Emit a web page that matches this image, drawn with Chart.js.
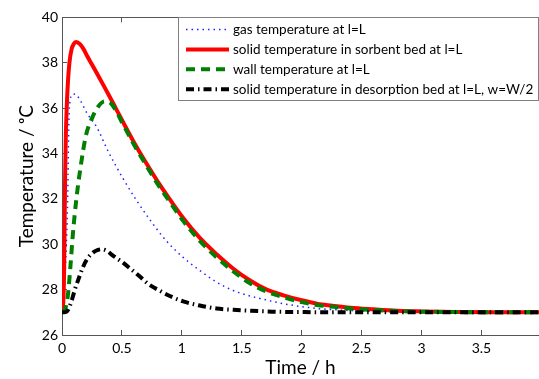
<!DOCTYPE html>
<html>
<head>
<meta charset="utf-8">
<script src="https://cdn.jsdelivr.net/npm/chart.js@4"></script>
<style>
  html, body { margin: 0; padding: 0; background: #fff; }
  #tempChart { display: block; }
</style>
</head>
<body>
<canvas id="tempChart" width="539" height="379"></canvas>
<script>
// time in hours, temperature in degrees C
var gasTime = [0, 0.02, 0.035, 0.045, 0.05, 0.055, 0.06, 0.07, 0.085, 0.11, 0.14, 0.213, 0.286, 0.381, 0.509, 0.62, 0.732, 0.872, 1.011, 1.151, 1.29, 1.429, 1.569, 1.7, 1.848, 2.127, 2.406, 2.7, 3.0, 3.5, 3.98];
var gasTemp = [27, 28, 29.8, 31.5, 33, 34.8, 35.8, 36.4, 36.6, 36.62, 36.45, 35.74, 35.2, 34.14, 32.9, 31.95, 31.09, 30.14, 29.42, 28.84, 28.33, 27.96, 27.72, 27.55, 27.38, 27.17, 27.08, 27.03, 27.01, 27.0, 27.0];

var solidTime = [0, 0.012, 0.018, 0.022, 0.026, 0.032, 0.04, 0.05, 0.062, 0.08, 0.1, 0.12, 0.15, 0.18, 0.21, 0.25, 0.3, 0.35, 0.4, 0.45, 0.5, 0.6, 0.7, 0.8, 0.9, 1.011, 1.15, 1.29, 1.43, 1.569, 1.7, 1.848, 2.0, 2.127, 2.27, 2.406, 2.6, 2.8, 3.0, 3.3, 3.6, 3.98];
var solidTemp = [27, 27.6, 29, 31, 33, 34.8, 36.1, 37.2, 38.0, 38.6, 38.85, 38.92, 38.82, 38.6, 38.3, 37.92, 37.45, 36.97, 36.48, 35.98, 35.48, 34.5, 33.6, 32.75, 31.98, 31.16, 30.28, 29.56, 28.92, 28.4, 28.02, 27.75, 27.53, 27.38, 27.28, 27.2, 27.13, 27.07, 27.04, 27.01, 27.0, 27.0];

var wallTime = [0, 0.03, 0.05, 0.07, 0.09, 0.12, 0.155, 0.2, 0.25, 0.3, 0.355, 0.4, 0.45, 0.5, 0.6, 0.7, 0.8, 0.9, 1.011, 1.15, 1.29, 1.43, 1.569, 1.7, 1.848, 2.0, 2.127, 2.27, 2.406, 2.6, 2.8, 3.0, 3.3, 3.98];
var wallTemp = [27, 27.2, 27.8, 29.0, 30.4, 32.0, 33.4, 34.8, 35.55, 36.05, 36.3, 36.25, 35.9, 35.38, 34.4, 33.5, 32.64, 31.86, 31.03, 30.15, 29.42, 28.8, 28.28, 27.93, 27.66, 27.45, 27.32, 27.24, 27.17, 27.1, 27.05, 27.03, 27.01, 27.0];

var bedTime = [0, 0.02, 0.05, 0.08, 0.105, 0.14, 0.174, 0.21, 0.258, 0.3, 0.33, 0.37, 0.425, 0.5, 0.565, 0.64, 0.72, 0.816, 0.9, 1.011, 1.15, 1.29, 1.43, 1.569, 1.75, 2.0, 2.5, 3.0, 3.5, 3.98];
var bedTemp = [27, 27.0, 27.1, 27.5, 27.96, 28.5, 28.98, 29.35, 29.63, 29.75, 29.78, 29.72, 29.5, 29.22, 28.95, 28.62, 28.25, 27.95, 27.72, 27.48, 27.3, 27.17, 27.11, 27.07, 27.03, 27.01, 27.0, 27.0, 27.0, 27.0];

var seriesLabels = [
  'gas temperature at l=L',
  'solid temperature in sorbent bed at l=L',
  'wall temperature at l=L',
  'solid temperature in desorption bed at l=L, w=W/2'
];

var xTicks = { min: 0, max: 3.98, step: 0.5 };
var yTicks = { min: 26, max: 40, step: 2 };

function toPoints(ts, vs) {
  return ts.map(function (t, i) { return { x: t, y: vs[i] }; });
}

function plainNumber(v) {
  return String(Math.round(v * 100) / 100);
}

var axisColor = '#555';
var fontName = 'Lato, "Noto Sans", sans-serif';

// legend drawn as a framed box in the top right corner of the plot
var boxLegend = {
  id: 'boxLegend',
  afterDraw: function (chart) {
    var ctx = chart.ctx;
    var area = chart.chartArea;
    var w = 360, h = 83;
    var left = Math.round(area.right) - 1 - w;
    var top = Math.round(area.top);
    ctx.save();
    ctx.fillStyle = '#fff';
    ctx.fillRect(left, top, w, h);
    ctx.strokeStyle = '#808080';
    ctx.lineWidth = 1;
    ctx.strokeRect(left + 0.5, top + 0.5, w, h);
    chart.data.datasets.forEach(function (ds, i) {
      var y = top + 12.5 + i * 19.9;
      ctx.beginPath();
      ctx.setLineDash(ds.borderDash || []);
      ctx.strokeStyle = ds.borderColor;
      ctx.lineWidth = ds.borderWidth;
      ctx.moveTo(left + 8, y);
      ctx.lineTo(left + 51, y);
      ctx.stroke();
      ctx.setLineDash([]);
      ctx.fillStyle = '#000';
      ctx.font = '13.5px ' + fontName;
      ctx.textBaseline = 'middle';
      ctx.fillText(ds.label, left + 55, y);
    });
    ctx.restore();
  }
};

var ctx = document.getElementById('tempChart').getContext('2d');
var myChart = new Chart(ctx, {
  type: 'line',
  data: {
    datasets: [{
      label: seriesLabels[0],
      data: toPoints(gasTime, gasTemp),
      borderColor: '#2020ff',
      borderWidth: 1.5,
      borderDash: [1.5, 4],
      order: 4
    }, {
      label: seriesLabels[1],
      data: toPoints(solidTime, solidTemp),
      borderColor: '#ff0000',
      borderWidth: 4,
      order: 3
    }, {
      label: seriesLabels[2],
      data: toPoints(wallTime, wallTemp),
      borderColor: '#007f00',
      borderWidth: 4,
      borderDash: [9, 6],
      order: 2
    }, {
      label: seriesLabels[3],
      data: toPoints(bedTime, bedTemp),
      borderColor: '#000000',
      borderWidth: 4,
      borderDash: [8, 4, 1.5, 4],
      order: 1
    }]
  },
  options: {
    responsive: false,
    animation: false,
    layout: { padding: { top: 14, left: 0, right: 0, bottom: 0 } },
    elements: {
      point: { radius: 0 },
      line: { cubicInterpolationMode: 'monotone', borderCapStyle: 'butt' }
    },
    plugins: {
      legend: { display: false },
      tooltip: { enabled: false }
    },
    scales: {
      x: {
        type: 'linear',
        position: 'bottom',
        min: xTicks.min,
        max: xTicks.max,
        afterFit: function (s) { s.height = 44; },
        ticks: {
          stepSize: xTicks.step,
          includeBounds: false,
          padding: 10,
          color: '#000',
          font: { family: fontName, size: 14 },
          callback: plainNumber
        },
        grid: { drawOnChartArea: false, tickLength: -5, color: axisColor },
        border: { color: axisColor },
        title: {
          display: true,
          text: 'Time / h',
          color: '#000',
          font: { family: fontName, size: 19 },
          padding: { top: 0, bottom: 0 }
        }
      },
      xTop: {
        type: 'linear',
        position: 'top',
        min: xTicks.min,
        max: xTicks.max,
        afterFit: function (s) { s.height = 0; },
        ticks: { stepSize: xTicks.step, includeBounds: false, display: false },
        grid: { drawOnChartArea: false, tickLength: -5, color: axisColor },
        border: { color: axisColor }
      },
      y: {
        min: yTicks.min,
        max: yTicks.max,
        afterFit: function (s) { s.width = 62; },
        ticks: {
          stepSize: yTicks.step,
          padding: 9,
          color: '#000',
          font: { family: fontName, size: 14 },
          callback: plainNumber
        },
        grid: { drawOnChartArea: false, tickLength: -5, color: axisColor },
        border: { color: axisColor },
        title: {
          display: true,
          text: 'Temperature / \u1D52C',
          color: '#000',
          font: { family: fontName, size: 19 },
          padding: { top: 15, bottom: 0 }
        }
      }
    }
  },
  plugins: [boxLegend]
});
</script>
</body>
</html>
